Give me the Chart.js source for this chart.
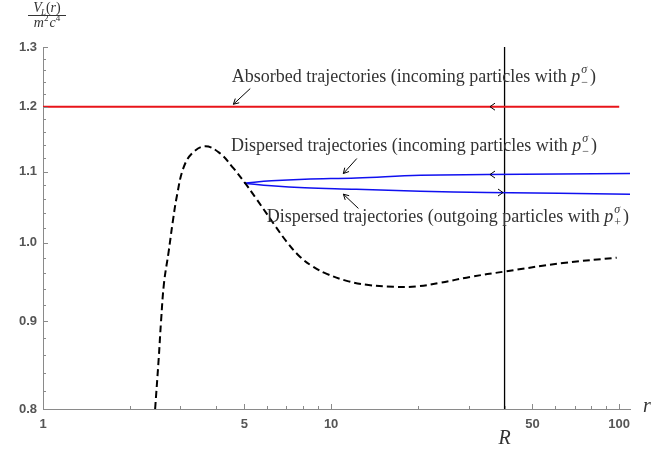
<!DOCTYPE html>
<html>
<head>
<meta charset="utf-8">
<script src="https://cdn.jsdelivr.net/npm/chart.js@4.4.0/dist/chart.umd.min.js"></script>
<style>
  html, body { margin: 0; padding: 0; background: #fff; }
  #wrap { width: 672px; height: 453px; }
</style>
</head>
<body>
<div id="wrap"><canvas id="chart"></canvas></div>
<script>
// effective potential V_L(r)/m^2c^4 (dashed)
let potR = [2.45, 2.52, 2.57, 2.63, 2.73, 2.82, 2.92, 3.07, 3.29, 3.66, 4.12, 4.58, 5.03, 5.45, 6.31, 7.02, 7.81, 8.68, 9.66, 11.33, 13.3, 16.45, 19.8, 23.9, 30.35, 40.1, 63.8, 98];
let potV = [0.800, 0.855, 0.901, 0.947, 0.988, 1.028, 1.066, 1.105, 1.127, 1.138, 1.127, 1.105, 1.083, 1.063, 1.026, 1.001, 0.981, 0.968, 0.959, 0.950, 0.945, 0.9425, 0.943, 0.9475, 0.955, 0.962, 0.973, 0.980];

// absorbed trajectory (red)
let absR = [1, 100];
let absV = [1.2, 1.2];

// dispersed trajectories (blue)
let dispR = [5, 6.21, 8.10, 12.24, 20.4, 34.7, 110];
let inV = [1.083, 1.0864, 1.0888, 1.0907, 1.0946, 1.0956, 1.0971];
let outV = [1.083, 1.0791, 1.0762, 1.0743, 1.0714, 1.0696, 1.0671];

// radius R (vertical line)
let rMark = 40;

// direction marks on the trajectories
let markR = [35.6, 35.6, 39.5];
let markV = [1.2, 1.0956, 1.0695];
let markDir = [-1, -1, 1];

// annotations
let noteText = ['Absorbed trajectories (incoming particles with ', 'Dispersed trajectories (incoming particles with ', 'Dispersed trajectories (outgoing particles with '];
let noteSign = ['\u2212', '\u2212', '+'];
let noteR = [4.52, 4.49, 5.98];
let noteV = [1.2487, 1.138, 1.0352];
let arrowFromR = [5.24, 12.28, 12.44];
let arrowFromV = [1.2295, 1.1194, 1.0469];
let arrowToR = [4.58, 11.03, 11.03];
let arrowToV = [1.2039, 1.0971, 1.0671];

// axes
let xTicks = [1, 5, 10, 50, 100];
let xTickLabels = ['1', '5', '10', '50', '100'];
let xMinor = [2, 3, 4, 6, 7, 8, 9, 20, 30, 40, 60, 70, 80, 90];
let yTicks = [0.8, 0.9, 1.0, 1.1, 1.2, 1.3];
let yTickLabels = ['0.8', '0.9', '1.0', '1.1', '1.2', '1.3'];
let yMinor = [0.82, 0.84, 0.86, 0.88, 0.92, 0.94, 0.96, 0.98, 1.02, 1.04, 1.06, 1.08, 1.12, 1.14, 1.16, 1.18, 1.22, 1.24, 1.26, 1.28];

const toPoints = (xs, ys) => xs.map((v, i) => ({ x: v, y: ys[i] }));

const serif = '"Liberation Serif", "DejaVu Serif", serif';
const axisGray = '#8a8a8a';
const textGray = '#333';

function drawParts(ctx, parts, x, y) {
    let cx = x;
    parts.forEach(p => {
        ctx.font = p.font;
        ctx.fillText(p.t, cx, y + (p.dy || 0));
        cx += ctx.measureText(p.t).width + (p.kern || 0);
    });
    return cx - x;
}

function arrowHead(ctx, x0, y0, x1, y1, len) {
    let a = Math.atan2(y1 - y0, x1 - x0);
    ctx.moveTo(x1 - len * Math.cos(a - 0.5), y1 - len * Math.sin(a - 0.5));
    ctx.lineTo(x1, y1);
    ctx.lineTo(x1 - len * Math.cos(a + 0.5), y1 - len * Math.sin(a + 0.5));
}

const decorPlugin = {
    id: 'decor',
    afterDatasetsDraw(chart) {
        const { ctx, chartArea } = chart;
        const x = chart.scales.x, y = chart.scales.y;
        ctx.save();

        // tick marks pointing into the plot
        ctx.strokeStyle = axisGray;
        ctx.lineWidth = 1;
        ctx.beginPath();
        xTicks.concat(xMinor).forEach(v => {
            let len = xTicks.includes(v) ? 5 : 3;
            let px = Math.round(x.getPixelForValue(v)) + 0.5;
            ctx.moveTo(px, chartArea.bottom);
            ctx.lineTo(px, chartArea.bottom - len);
        });
        yTicks.concat(yMinor).forEach(v => {
            let len = yTicks.includes(v) ? 5 : 3;
            let py = Math.round(y.getPixelForValue(v)) + 0.5;
            ctx.moveTo(chartArea.left, py);
            ctx.lineTo(chartArea.left + len, py);
        });
        ctx.stroke();

        // direction marks
        ctx.strokeStyle = '#000';
        ctx.lineWidth = 1;
        ctx.beginPath();
        markR.forEach((r, i) => {
            let px = x.getPixelForValue(r), py = y.getPixelForValue(markV[i]);
            let d = markDir[i];
            ctx.moveTo(px - d * 5, py - 3.5);
            ctx.lineTo(px, py);
            ctx.lineTo(px - d * 5, py + 3.5);
        });
        ctx.stroke();

        // annotation arrows
        ctx.beginPath();
        arrowFromR.forEach((r, i) => {
            let x0 = x.getPixelForValue(r), y0 = y.getPixelForValue(arrowFromV[i]);
            let x1 = x.getPixelForValue(arrowToR[i]), y1 = y.getPixelForValue(arrowToV[i]);
            ctx.moveTo(x0, y0);
            ctx.lineTo(x1, y1);
            arrowHead(ctx, x0, y0, x1, y1, 6);
        });
        ctx.stroke();

        // annotation texts
        ctx.fillStyle = textGray;
        ctx.textBaseline = 'middle';
        ctx.textAlign = 'left';
        noteText.forEach((t, i) => {
            let px = x.getPixelForValue(noteR[i]), py = y.getPixelForValue(noteV[i]);
            let w = drawParts(ctx, [{ t: t, font: '18px ' + serif }, { t: 'p', font: 'italic 18px ' + serif, kern: 1 }], px, py);
            ctx.font = 'italic 12px ' + serif;
            ctx.fillText('\u03c3', px + w, py - 7);
            let sw = ctx.measureText('\u03c3').width;
            ctx.font = '12px ' + serif;
            ctx.fillText(noteSign[i], px + w, py + 6);
            sw = Math.max(sw, ctx.measureText(noteSign[i]).width);
            ctx.font = '18px ' + serif;
            ctx.fillText(')', px + w + sw + 2, py);
        });

        // axis labels
        ctx.textBaseline = 'alphabetic';
        ctx.font = 'italic 20px ' + serif;
        ctx.textAlign = 'center';
        ctx.fillText('R', x.getPixelForValue(rMark), chartArea.bottom + 35);
        ctx.textAlign = 'left';
        ctx.fillText('r', chartArea.right + 13, chartArea.bottom + 3);

        // y axis title as a fraction
        let cx = chartArea.left + 4;
        let numParts = [{ t: 'V', font: 'italic 14px ' + serif, kern: -1 }, { t: 'L', font: 'italic 9px ' + serif, dy: 3 }, { t: '(', font: '14px ' + serif }, { t: 'r', font: 'italic 14px ' + serif }, { t: ')', font: '14px ' + serif }];
        let numW = drawParts(ctx, numParts, -1000, 0);
        drawParts(ctx, numParts, cx - numW / 2, 12);
        ctx.fillRect(cx - 19, 15, 38, 1);
        let denParts = [{ t: 'm', font: 'italic 14px ' + serif }, { t: '2', font: '9px ' + serif, dy: -6, kern: 1 }, { t: 'c', font: 'italic 14px ' + serif }, { t: '4', font: '9px ' + serif, dy: -6 }];
        let denW = drawParts(ctx, denParts, -1000, 0);
        drawParts(ctx, denParts, cx - denW / 2, 27);

        ctx.restore();
    }
};

new Chart(document.getElementById('chart'), {
    type: 'line',
    data: {
        datasets: [{
            label: 'potential',
            data: toPoints(potR, potV),
            borderColor: '#000',
            borderWidth: 2,
            borderDash: [7, 4],
            pointRadius: 0,
            tension: 0.4,
        }, {
            label: 'absorbed',
            data: toPoints(absR, absV),
            borderColor: '#e8141a',
            borderWidth: 2,
            pointRadius: 0,
        }, {
            label: 'incoming',
            data: toPoints(dispR, inV),
            borderColor: '#1010f0',
            borderWidth: 1.5,
            pointRadius: 0,
            tension: 0.4,
        }, {
            label: 'outgoing',
            data: toPoints(dispR, outV),
            borderColor: '#1010f0',
            borderWidth: 1.5,
            pointRadius: 0,
            tension: 0.4,
        }, {
            label: 'R',
            data: [{ x: rMark, y: yTicks[0] }, { x: rMark, y: yTicks[yTicks.length - 1] }],
            borderColor: '#000',
            borderWidth: 1.3,
            pointRadius: 0,
        }]
    },
    options: {
        responsive: true,
        maintainAspectRatio: false,
        animation: false,
        devicePixelRatio: 1,
        layout: { padding: { top: 47, right: 42, left: 0, bottom: 0 } },
        scales: {
            x: {
                type: 'logarithmic',
                min: 1,
                max: 109,
                afterBuildTicks: s => { s.ticks = xTicks.map(v => ({ value: v })); },
                afterFit: s => { s.height = 44; },
                grid: { display: true, drawOnChartArea: false, drawTicks: false },
                border: { display: true, color: axisGray, width: 1 },
                ticks: {
                    autoSkip: false,
                    maxRotation: 0,
                    padding: 8,
                    color: '#555',
                    font: { family: '"Liberation Sans", Arial, sans-serif', size: 13, weight: 'bold' },
                    callback: (v, i) => xTickLabels[i]
                }
            },
            y: {
                type: 'logarithmic',
                min: 0.8,
                max: 1.3,
                afterBuildTicks: s => { s.ticks = yTicks.map(v => ({ value: v })); },
                afterFit: s => { s.width = 43; },
                grid: { display: true, drawOnChartArea: false, drawTicks: false },
                border: { display: true, color: axisGray, width: 1 },
                ticks: {
                    autoSkip: false,
                    padding: 6,
                    color: '#555',
                    font: { family: '"Liberation Sans", Arial, sans-serif', size: 13, weight: 'bold' },
                    callback: (v, i) => yTickLabels[i]
                }
            }
        },
        plugins: {
            legend: { display: false },
            tooltip: { enabled: false }
        }
    },
    plugins: [decorPlugin]
});
</script>
</body>
</html>
